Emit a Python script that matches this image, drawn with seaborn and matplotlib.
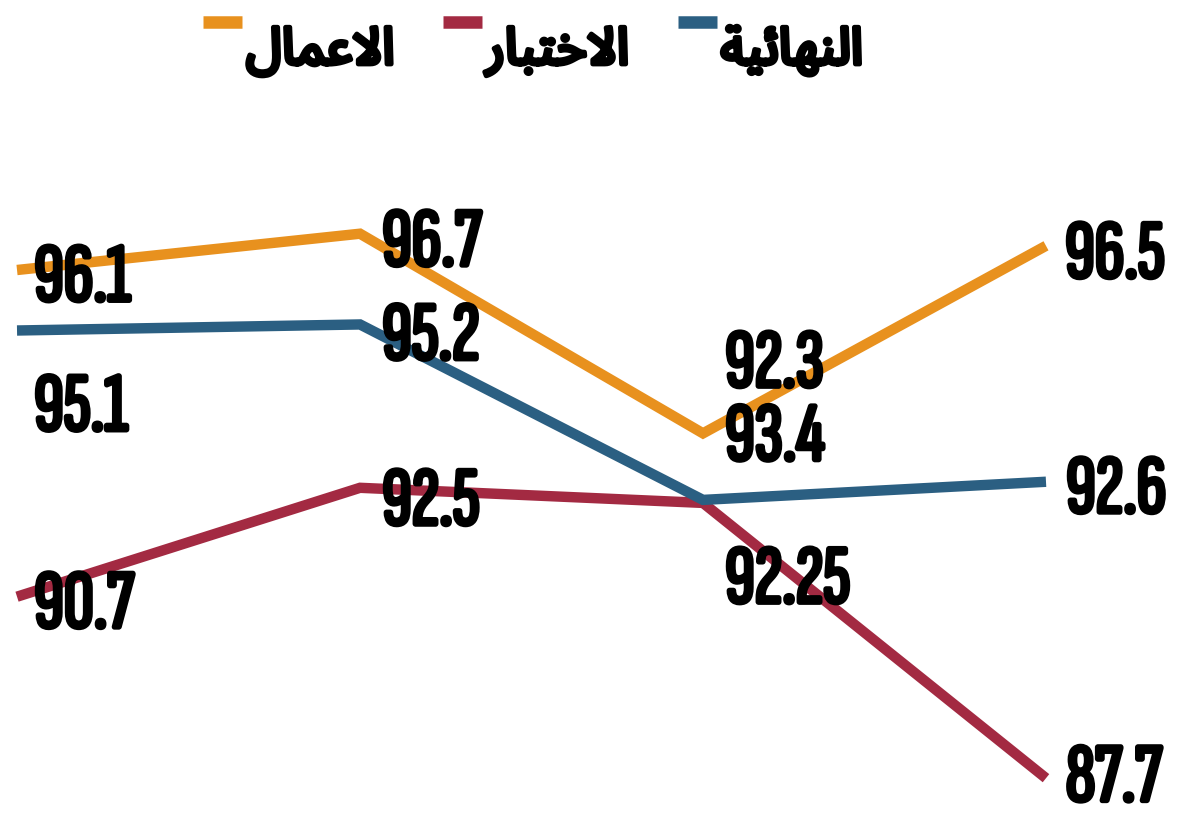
import numpy as np
import pandas as pd
import matplotlib
matplotlib.use('Agg')
import matplotlib.pyplot as plt
import matplotlib.patheffects as pe
from matplotlib.font_manager import FontProperties
from matplotlib.textpath import TextPath
from matplotlib.legend_handler import HandlerLine2D
import seaborn as sns

# data
stages = [1, 2, 3, 4]
series_names = ['الاعمال', 'الاختبار', 'النهائية']
scores_aamal = [96.1, 96.7, 93.4, 96.5]
scores_ikhtibar = [90.7, 92.5, 92.25, 87.7]
scores_nihaiya = [95.1, 95.2, 92.3, 92.6]
series_colors = ['#E8911E', '#A32A42', '#2B5F82']

sns.set_theme(style='white')
plt.rcParams['font.family'] = ['DejaVu Sans']

# arabic presentation forms: isolated, final, initial, medial
FORMS = {
    'ا': ('\uFE8D', '\uFE8E', None, None),
    'ل': ('\uFEDD', '\uFEDE', '\uFEDF', '\uFEE0'),
    'ن': ('\uFEE5', '\uFEE6', '\uFEE7', '\uFEE8'),
    'ه': ('\uFEE9', '\uFEEA', '\uFEEB', '\uFEEC'),
    'ئ': ('\uFE89', '\uFE8A', '\uFE8B', '\uFE8C'),
    'ي': ('\uFEF1', '\uFEF2', '\uFEF3', '\uFEF4'),
    'ة': ('\uFE93', '\uFE94', None, None),
    'خ': ('\uFEA5', '\uFEA6', '\uFEA7', '\uFEA8'),
    'ت': ('\uFE95', '\uFE96', '\uFE97', '\uFE98'),
    'ب': ('\uFE8F', '\uFE90', '\uFE91', '\uFE92'),
    'ر': ('\uFEAD', '\uFEAE', None, None),
    'ع': ('\uFEC9', '\uFECA', '\uFECB', '\uFECC'),
    'م': ('\uFEE1', '\uFEE2', '\uFEE3', '\uFEE4'),
    'لا': ('\uFEFB', '\uFEFC', None, None),
}


def shape_arabic(word):
    # join letters and reverse for left-to-right drawing
    glyphs = []
    i = 0
    while i < len(word):
        if word[i] == 'ل' and i + 1 < len(word) and word[i + 1] == 'ا':
            glyphs.append('لا')
            i += 2
        else:
            glyphs.append(word[i])
            i += 1
    out = []
    for k, g in enumerate(glyphs):
        f = FORMS[g]
        joins_prev = k > 0 and FORMS[glyphs[k - 1]][2] is not None
        joins_next = k < len(glyphs) - 1 and f[2] is not None
        if joins_prev and joins_next:
            out.append(f[3])
        elif joins_prev:
            out.append(f[1])
        elif joins_next:
            out.append(f[2])
        else:
            out.append(f[0])
    return ''.join(reversed(out))


class TopLine(HandlerLine2D):
    # put the legend dash up near the top of the word
    def create_artists(self, legend, orig_handle, xdescent, ydescent,
                       width, height, fontsize, trans):
        return super().create_artists(legend, orig_handle, xdescent,
                                      ydescent - 0.95 * fontsize, width,
                                      height, fontsize, trans)


df = pd.DataFrame({
    'stage': stages * 3,
    'score': scores_aamal + scores_ikhtibar + scores_nihaiya,
    'series': [series_names[0]] * 4 + [series_names[1]] * 4 + [series_names[2]] * 4,
})

fig = plt.figure(figsize=(11.8, 8.16), dpi=100)
ax = fig.add_axes([0, 0, 1, 1])

sns.lineplot(data=df, x='stage', y='score', hue='series',
             hue_order=series_names, palette=dict(zip(series_names, series_colors)),
             linewidth=7.5, ax=ax, sort=False, legend=True)
for line in ax.get_lines():
    line.set_solid_capstyle('butt')
    line.set_solid_joinstyle('miter')

ax.set_xlim(0.9504, 4.3907)
ax.set_ylim(87.075, 100.563)
ax.axis('off')

# value labels in a narrow face: digits ~58 px tall, "92.25" no wider than ~120 px
label_font = ['Sofia Sans Extra Condensed', 'Fira Sans Extra Condensed', 'Barlow Condensed', 'DejaVu Sans']
label_prop = FontProperties(family=label_font, weight='bold')
nine_h = TextPath((0, 0), '9', size=1, prop=label_prop).get_extents().height
size_h = 58 * 72 / 100 / nine_h
size_w = 120 * 72 / 100 / TextPath((0, 0), '92.25', size=1, prop=label_prop).get_extents().width
label_size = min(size_h, size_w)
digit_px = label_size * 100 / 72 * nine_h
heavy = [pe.withStroke(linewidth=3.2, foreground='black')]

# (dx, dy down) in pixels from each point to the label's left/middle
offsets = {
    series_names[0]: [(17, 3), (22, 4), (22, -1), (19, 4)],
    series_names[1]: [(17, 3), (22, 9), (22, 72), (20, -5)],
    series_names[2]: [(17, 72), (22, 7), (22, -141), (20, 3)],
}
for name, vals in zip(series_names, [scores_aamal, scores_ikhtibar, scores_nihaiya]):
    for s, v, (dx, dy) in zip(stages, vals, offsets[name]):
        ax.annotate(f'{v:g}', xy=(s, v), xytext=(dx, -(dy + digit_px / 2)),
                    textcoords='offset pixels', ha='left', va='baseline',
                    fontsize=label_size, fontweight='bold', family=label_font,
                    color='black', path_effects=heavy)

handles, labels = ax.get_legend_handles_labels()
leg = ax.legend(handles, [shape_arabic(l) for l in labels],
                handler_map={h: TopLine() for h in handles},
                loc='upper center', bbox_to_anchor=(0.452, 0.982), bbox_transform=fig.transFigure,
                ncol=3, frameon=False,
                prop={'family': ['Noto Sans Arabic', 'DejaVu Sans'], 'weight': 'bold', 'size': 37},
                handlelength=0.75, handletextpad=0.08, columnspacing=0.95,
                borderaxespad=0.1, borderpad=0.1)
for t in leg.get_texts():
    t.set_color('black')
    t.set_path_effects([pe.withStroke(linewidth=3.5, foreground='black')])
for h in leg.legend_handles:
    h.set_linewidth(9)

fig.savefig('out.png', dpi=100)
